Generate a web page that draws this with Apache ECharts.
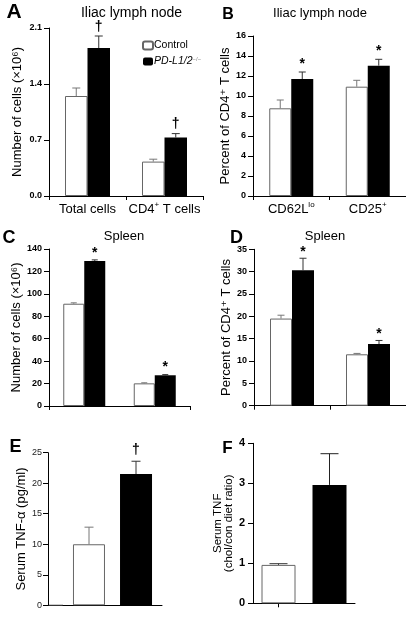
<!DOCTYPE html>
<html><head><meta charset="utf-8">
<script src="https://cdn.jsdelivr.net/npm/echarts@6/dist/echarts.min.js"></script>
<style>html,body{margin:0;padding:0;background:#fff}#c{width:406px;height:620px}</style>
</head><body><div id="c"></div>
<script>
// ---------- data ----------
const catsA = ['Total cells', 'CD4+ T cells'];
const aCtrl = [1.25, 0.43];  const aCtrlErr = [0.10, 0.03];
const aPd   = [1.85, 0.73];  const aPdErr   = [0.15, 0.05];
const aMark = ['†', '†'];

const catsB = ['CD62Llo', 'CD25+'];
const bCtrl = [8.77, 10.93]; const bCtrlErr = [0.83, 0.64];
const bPd   = [11.7, 13.03]; const bPdErr   = [0.70, 0.64];
const bMark = ['*', '*'];

const catsC = ['Total cells', 'CD4+ T cells'];
const cCtrl = [91.2, 20.2];  const cCtrlErr = [0.8, 0.5];
const cPd   = [129.3, 27.4]; const cPdErr   = [1.0, 0.6];
const cMark = ['*', '*'];

const catsD = ['CD62Llo', 'CD25+'];
const dCtrl = [19.5, 11.5];  const dCtrlErr = [0.75, 0.2];
const dPd   = [30.3, 13.8];  const dPdErr   = [2.7, 0.8];
const dMark = ['*', '*'];

const catsE = ['Serum TNF-α'];
const eCtrl = [10.0];  const eCtrlErr = [2.8];
const ePd   = [21.5];  const ePdErr   = [2.1];
const eMark = ['†'];

const catsF = ['Control', 'PD-L1/2−/−'];
const fCtrl = [0.96];  const fCtrlErr = [0.03];
const fPd   = [2.96];  const fPdErr   = [0.78];

const yTicksA = {min: 0, max: 2.1, interval: 0.7};
const yTicksB = {min: 0, max: 16, interval: 2};
const yTicksC = {min: 0, max: 140, interval: 20};
const yTicksD = {min: 0, max: 35, interval: 5};
const yTicksE = {min: 0, max: 25, interval: 5};
const yTicksF = {min: 0, max: 4, interval: 1};

const CTRL = 'Control';
const PD = 'PD-L1/2−/−';

// ---------- helpers ----------
const FONT = '"Liberation Sans", Arial, "DejaVu Sans", sans-serif';
const richLbl = {
  n: {fontSize: 13, fontFamily: FONT, color: '#000', lineHeight: 16},
  s: {fontSize: 8, fontFamily: FONT, color: '#000', lineHeight: 9, verticalAlign: 'top'}
};
function fmtCat(v) {
  const m = {
    'CD4+ T cells': '{n|CD4}{s|+}{n| T cells}',
    'CD62Llo': '{n|CD62L}{s|lo}',
    'CD25+': '{n|CD25}{s|+}',
    'Total cells': '{n|Total cells}'
  };
  return m[v] || '';
}

function errSeries(name, gi, vals, errs, offset, cap, color, marks, markGap, nulls) {
  const data = [];
  vals.forEach((v, i) => {
    const idx = nulls ? nulls[i] : i;
    data.push([idx, v + errs[i], v, marks ? (marks[i] || '') : '']);
  });
  return {
    type: 'custom', name: name + ' err', xAxisIndex: gi, yAxisIndex: gi, z: 5,
    silent: true, legendHoverLink: false,
    data: data,
    renderItem: function (params, api) {
      const idx = api.value(0);
      const top = api.coord([idx, api.value(1)]);
      const base = api.coord([idx, api.value(2)]);
      const x = top[0] + offset;
      const ch = [
        {type: 'line', shape: {x1: x, y1: base[1], x2: x, y2: top[1]}, style: {stroke: color, lineWidth: 1}},
        {type: 'line', shape: {x1: x - cap, y1: top[1], x2: x + cap, y2: top[1]}, style: {stroke: color, lineWidth: 1}}
      ];
      const mk = data[params.dataIndex][3];
      if (mk) {
        ch.push({type: 'text', style: {text: mk, x: x, y: top[1] - markGap, align: 'center', verticalAlign: 'middle',
          font: 'bold 14px ' + FONT, fill: '#000'}});
      }
      return {type: 'group', children: ch};
    }
  };
}

function barSeries(name, gi, data, bw, gap) {
  const ctrl = name === CTRL;
  return {
    type: 'bar', name: name, xAxisIndex: gi, yAxisIndex: gi, data: data,
    barWidth: bw, barGap: gap,
    itemStyle: ctrl ? {color: '#fff', borderColor: '#666', borderWidth: 1} : {color: '#000'},
    emphasis: {disabled: true}
  };
}

const grids = [
  {left: 49, top: 28, width: 154, height: 168},
  {left: 253, top: 36, width: 153, height: 160},
  {left: 49, top: 249, width: 141, height: 157},
  {left: 254, top: 249.3, width: 152, height: 156.4},
  {left: 63, top: 452.7, width: 99, height: 152.6},
  {left: 253, top: 443.3, width: 102, height: 160}
];

function xAx(gi, cats, opts) {
  return Object.assign({
    type: 'category', gridIndex: gi, data: cats,
    axisLine: {lineStyle: {color: '#000', width: 1}},
    axisTick: {show: true, length: 4, lineStyle: {color: '#000'}},
    axisLabel: {show: false}
  }, opts || {});
}
function yAx(gi, t, name, gap, opts) {
  return Object.assign({
    type: 'value', gridIndex: gi, min: t.min, max: t.max, interval: t.interval,
    name: name, nameLocation: 'middle', nameGap: gap,
    nameTextStyle: {fontSize: 13, fontFamily: FONT, color: '#000'},
    axisLine: {show: true, lineStyle: {color: '#000', width: 1}},
    axisTick: {show: true, length: 5, lineStyle: {color: '#000'}},
    axisLabel: {fontSize: 9, fontWeight: 'bold', fontFamily: FONT, color: '#000', margin: 7},
    splitLine: {show: false}
  }, opts || {});
}

const option = {
  animation: false,
  backgroundColor: '#fff',
  textStyle: {fontFamily: FONT},
  grid: grids,
  legend: {
    data: [CTRL, PD], orient: 'vertical', left: 142, top: 40, padding: 0,
    itemWidth: 10, itemHeight: 8, itemGap: 5, selectedMode: false,
    textStyle: {fontSize: 10.5, fontFamily: FONT, color: '#000', padding: [0, 0, 0, -4],
      rich: {i: {fontStyle: 'italic', fontSize: 10.5, fontFamily: FONT, color: '#000'},
             s: {fontSize: 6, fontFamily: FONT, color: '#888', verticalAlign: 'top', lineHeight: 7}}},
    formatter: n => n === PD ? '{i|PD-L1/2}{s|−/−}' : n
  },
  xAxis: [
    xAx(0, catsA, {axisLabel: {show: true, interval: 0, margin: 5, formatter: fmtCat, rich: richLbl}}),
    xAx(1, catsB, {axisLabel: {show: true, interval: 0, margin: 5, formatter: fmtCat, rich: richLbl}}),
    xAx(2, catsC),
    xAx(3, catsD),
    xAx(4, catsE, {axisTick: {show: false}}),
    xAx(5, catsF, {axisTick: {show: true, alignWithLabel: true, length: 4, lineStyle: {color: '#000'}}})
  ],
  yAxis: [
    yAx(0, yTicksA, 'Number of cells (×10⁶)', 25, {axisLabel: {fontSize: 9, fontWeight: 'bold', fontFamily: FONT, color: '#000', margin: 7, formatter: v => v.toFixed(1)}}),
    yAx(1, yTicksB, 'Percent of CD4⁺ T cells', 20),
    yAx(2, yTicksC, 'Number of cells (×10⁶)', 25),
    yAx(3, yTicksD, 'Percent of CD4⁺ T cells', 21),
    yAx(4, yTicksE, 'Serum TNF-α (pg/ml)', 16, {offset: 15, axisLabel: {fontSize: 9, fontFamily: FONT, color: '#222', margin: 6}}),
    yAx(5, yTicksF, 'Serum TNF\n(chol/con diet ratio)', 19, {nameTextStyle: {fontSize: 11.5, fontFamily: FONT, color: '#000', lineHeight: 11}, axisLabel: {fontSize: 11, fontWeight: 'bold', fontFamily: FONT, color: '#000', margin: 8}})
  ],
  series: [
    barSeries(CTRL, 0, aCtrl, 22.5, '0%'), barSeries(PD, 0, aPd, 22.5, '0%'),
    errSeries(CTRL, 0, aCtrl, aCtrlErr, -11.25, 4, '#777', null, 0),
    errSeries(PD, 0, aPd, aPdErr, 11.25, 4, '#333', aMark, 9),

    barSeries(CTRL, 1, bCtrl, 22, '0%'), barSeries(PD, 1, bPd, 22, '0%'),
    errSeries(CTRL, 1, bCtrl, bCtrlErr, -11, 3.5, '#777', null, 0),
    errSeries(PD, 1, bPd, bPdErr, 11, 3.5, '#333', bMark, 8),

    barSeries(CTRL, 2, cCtrl, 21, '0%'), barSeries(PD, 2, cPd, 21, '0%'),
    errSeries(CTRL, 2, cCtrl, cCtrlErr, -10.5, 3, '#777', null, 0),
    errSeries(PD, 2, cPd, cPdErr, 10.5, 3, '#333', cMark, 7),

    barSeries(CTRL, 3, dCtrl, 22, '0%'), barSeries(PD, 3, dPd, 22, '0%'),
    errSeries(CTRL, 3, dCtrl, dCtrlErr, -11, 3.5, '#777', null, 0),
    errSeries(PD, 3, dPd, dPdErr, 11, 3.5, '#333', dMark, 6),

    barSeries(CTRL, 4, eCtrl, 32, '47%'), barSeries(PD, 4, ePd, 32, '47%'),
    errSeries(CTRL, 4, eCtrl, eCtrlErr, -23.5, 4.5, '#777', null, 0),
    errSeries(PD, 4, ePd, ePdErr, 23.5, 4.5, '#333', eMark, 11),

    barSeries(CTRL, 5, [fCtrl[0], '-'], 34, '-100%'), barSeries(PD, 5, ['-', fPd[0]], 34, '-100%'),
    errSeries(CTRL, 5, fCtrl, fCtrlErr, 0, 9, '#333', null, 0, [0]),
    errSeries(PD, 5, fPd, fPdErr, 0, 9, '#222', null, 0, [1])
  ],
  graphic: [
    // panel letters
    {type: 'text', style: {text: 'A', x: 14, y: 12.5, align: 'center', verticalAlign: 'middle', font: 'bold 21px ' + FONT, fill: '#000'}},
    {type: 'text', style: {text: 'B', x: 228, y: 15, align: 'center', verticalAlign: 'middle', font: 'bold 16px ' + FONT, fill: '#000'}},
    {type: 'text', style: {text: 'C', x: 9, y: 238.5, align: 'center', verticalAlign: 'middle', font: 'bold 18px ' + FONT, fill: '#000'}},
    {type: 'text', style: {text: 'D', x: 236.5, y: 238.5, align: 'center', verticalAlign: 'middle', font: 'bold 18px ' + FONT, fill: '#000'}},
    {type: 'text', style: {text: 'E', x: 15.5, y: 447.5, align: 'center', verticalAlign: 'middle', font: 'bold 18px ' + FONT, fill: '#000'}},
    {type: 'text', style: {text: 'F', x: 227.5, y: 448.5, align: 'center', verticalAlign: 'middle', font: 'bold 17px ' + FONT, fill: '#000'}},
    // panel titles
    {type: 'text', style: {text: 'Iliac lymph node', x: 131.5, y: 13, align: 'center', verticalAlign: 'middle', font: '14px ' + FONT, fill: '#000'}},
    {type: 'text', style: {text: 'Iliac lymph node', x: 320, y: 13, align: 'center', verticalAlign: 'middle', font: '13px ' + FONT, fill: '#000'}},
    {type: 'text', style: {text: 'Spleen', x: 124, y: 236, align: 'center', verticalAlign: 'middle', font: '13px ' + FONT, fill: '#000'}},
    {type: 'text', style: {text: 'Spleen', x: 325, y: 236, align: 'center', verticalAlign: 'middle', font: '13px ' + FONT, fill: '#000'}},
    // extend panel E baseline to its offset y-axis
    {type: 'line', shape: {x1: grids[4].left - 15, y1: grids[4].top + grids[4].height, x2: grids[4].left, y2: grids[4].top + grids[4].height}, style: {stroke: '#000', lineWidth: 1}}
  ]
};
const chart = echarts.init(document.getElementById('c'), null, {renderer: 'canvas'});
chart.setOption(option);
</script></body></html>
